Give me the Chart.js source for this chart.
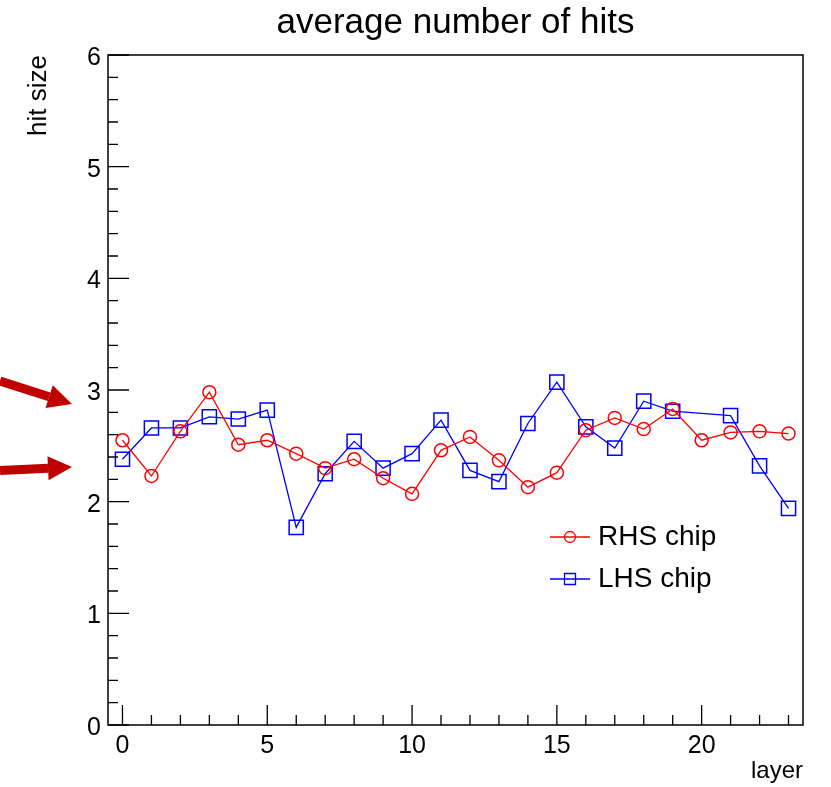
<!DOCTYPE html>
<html>
<head>
<meta charset="utf-8">
<script src="https://cdn.jsdelivr.net/npm/chart.js@4"></script>
<style>
  body { margin: 0; background: #fff; }
  #wrap { width: 831px; height: 787px; }
</style>
</head>
<body>
<div id="wrap"><canvas id="hits-chart"></canvas></div>
<script>
// values, one per layer
const layers = [0, 1, 2, 3, 4, 5, 6, 7, 8, 9, 10, 11, 12, 13, 14, 15, 16, 17, 18, 19, 20, 21, 22, 23];
const rhsHits = [2.55, 2.23, 2.63, 2.98, 2.51, 2.55, 2.43, 2.30, 2.38, 2.21, 2.07, 2.46, 2.58, 2.37, 2.13, 2.26, 2.64, 2.75, 2.65, 2.83, 2.55, 2.62, 2.63, 2.61];
const lhsHits = [2.38, 2.66, 2.66, 2.76, 2.74, 2.82, 1.77, 2.25, 2.54, 2.30, 2.43, 2.73, 2.28, 2.18, 2.70, 3.07, 2.67, 2.48, 2.90, 2.81, null, 2.77, 2.32, 1.94];
const seriesNames = ['RHS chip', 'LHS chip'];
const xTickValues = [0, 5, 10, 15, 20];
const yTickValues = [0, 1, 2, 3, 4, 5, 6];
// red arrows on the left: [tail y, tip y] in hit size units
const arrowLevels = [[3.08, 2.875], [2.28, 2.31]];

const FONT = "'Liberation Sans', Arial, sans-serif";

function toPoints(values) {
    return layers.map((l, i) => ({ x: l, y: values[i] }));
}

const rootFrame = {
    id: 'rootFrame',
    afterDraw(chart) {
        const ctx = chart.ctx;
        const area = chart.chartArea;
        const xs = chart.scales.x;
        const ys = chart.scales.y;
        ctx.save();

        // frame
        ctx.strokeStyle = '#000';
        ctx.lineWidth = 1.5;
        ctx.strokeRect(area.left, area.top, area.right - area.left, area.bottom - area.top);

        // ticks pointing inwards
        ctx.lineWidth = 1.3;
        ctx.beginPath();
        for (let v = 0; v <= 23; v++) {
            const px = xs.getPixelForValue(v);
            const len = v % 5 === 0 ? 20 : 10;
            ctx.moveTo(px, area.bottom);
            ctx.lineTo(px, area.bottom - len);
        }
        for (let k = 0; k <= 30; k++) {
            const py = ys.getPixelForValue(k / 5);
            const len = k % 5 === 0 ? 21 : 10;
            ctx.moveTo(area.left, py);
            ctx.lineTo(area.left + len, py);
        }
        ctx.stroke();

        // title
        ctx.fillStyle = '#000';
        ctx.font = '35px ' + FONT;
        ctx.textAlign = 'center';
        ctx.textBaseline = 'alphabetic';
        ctx.fillText('average number of hits', (area.left + area.right) / 2, 33);

        // legend
        chart.data.datasets.forEach((ds, i) => {
            const y = 537 + i * 42;
            const cx = 570;
            ctx.strokeStyle = ds.borderColor;
            ctx.lineWidth = 1.3;
            ctx.beginPath();
            ctx.moveTo(550, y);
            ctx.lineTo(590, y);
            ctx.stroke();
            ctx.beginPath();
            if (ds.pointStyle === 'circle') {
                ctx.arc(cx, y, 5.5, 0, Math.PI * 2);
            } else {
                ctx.rect(cx - 5.5, y - 5.5, 11, 11);
            }
            ctx.stroke();
            ctx.fillStyle = '#000';
            ctx.font = '28px ' + FONT;
            ctx.textAlign = 'left';
            ctx.textBaseline = 'middle';
            ctx.fillText(ds.label, 598, y);
        });

        // annotation arrows
        ctx.fillStyle = '#c00000';
        ctx.strokeStyle = '#c00000';
        arrowLevels.forEach(([tail, tip]) => {
            const x0 = 0, y0 = ys.getPixelForValue(tail);
            const x1 = area.left - 36, y1 = ys.getPixelForValue(tip);
            const ang = Math.atan2(y1 - y0, x1 - x0);
            const head = 24, half = 12;
            const bx = x1 - head * Math.cos(ang), by = y1 - head * Math.sin(ang);
            ctx.lineWidth = 9;
            ctx.beginPath();
            ctx.moveTo(x0, y0);
            ctx.lineTo(bx, by);
            ctx.stroke();
            ctx.beginPath();
            ctx.moveTo(x1, y1);
            ctx.lineTo(bx - half * Math.sin(ang), by + half * Math.cos(ang));
            ctx.lineTo(bx + half * Math.sin(ang), by - half * Math.cos(ang));
            ctx.closePath();
            ctx.fill();
        });

        ctx.restore();
    }
};

const ctx = document.getElementById('hits-chart').getContext('2d');
new Chart(ctx, {
    type: 'line',
    data: {
        datasets: [{
            label: seriesNames[0],
            data: toPoints(rhsHits),
            borderColor: '#ff0000',
            borderWidth: 1.3,
            pointStyle: 'circle',
            pointRadius: 6.5,
            pointBorderWidth: 1.5,
            pointBackgroundColor: 'rgba(0,0,0,0)',
            pointBorderColor: '#ff0000',
            tension: 0
        }, {
            label: seriesNames[1],
            data: toPoints(lhsHits),
            borderColor: '#0000ff',
            borderWidth: 1.3,
            pointStyle: 'rect',
            pointRadius: 10,
            pointBorderWidth: 1.5,
            pointBackgroundColor: 'rgba(0,0,0,0)',
            pointBorderColor: '#0000ff',
            spanGaps: true,
            tension: 0
        }]
    },
    options: {
        responsive: true,
        maintainAspectRatio: false,
        animation: false,
        layout: { padding: { top: 55, right: 28, left: 0, bottom: 0 } },
        plugins: {
            legend: { display: false },
            title: { display: false },
            tooltip: { enabled: false }
        },
        scales: {
            x: {
                type: 'linear',
                min: -0.5,
                max: 23.5,
                afterFit: s => { s.height = 62; },
                afterBuildTicks: s => { s.ticks = xTickValues.map(v => ({ value: v })); },
                grid: { display: false, drawTicks: false },
                border: { display: false },
                ticks: {
                    color: '#000',
                    font: { family: FONT, size: 25 },
                    padding: 6,
                    maxRotation: 0
                },
                title: {
                    display: true,
                    text: 'layer',
                    align: 'end',
                    color: '#000',
                    font: { family: FONT, size: 24 },
                    padding: { top: 0, bottom: 1 }
                }
            },
            y: {
                min: 0,
                max: 6,
                afterFit: s => { s.width = 108; },
                afterBuildTicks: s => { s.ticks = yTickValues.map(v => ({ value: v })); },
                grid: { display: false, drawTicks: false },
                border: { display: false },
                ticks: {
                    color: '#000',
                    font: { family: FONT, size: 25 },
                    padding: 7,
                    labelOffset: 3
                },
                title: {
                    display: true,
                    text: 'hit size',
                    align: 'end',
                    color: '#000',
                    font: { family: FONT, size: 26 },
                    padding: { top: 23, bottom: 0 }
                }
            }
        }
    },
    plugins: [rootFrame]
});
</script>
</body>
</html>
